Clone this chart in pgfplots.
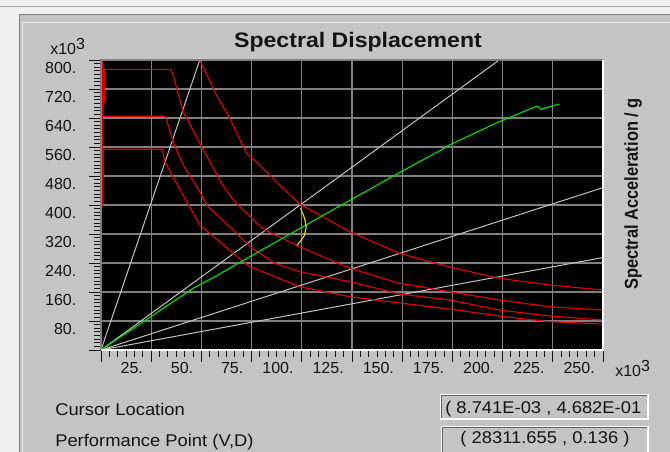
\documentclass[border=0pt]{standalone}
\usepackage{fontspec}
\setmainfont{Liberation Sans}
\newfontfamily\uif{Liberation Sans}[FakeStretch=1.08]
\newfontfamily\titlef{Liberation Sans}[FakeStretch=1.1]
\newfontfamily\rlabf{Liberation Sans}[FakeStretch=0.88]
\usepackage{pgfplots}
\pgfplotsset{compat=1.18}
\definecolor{panel}{RGB}{196,196,196}
\definecolor{winbg}{RGB}{240,240,240}
\definecolor{gridc}{RGB}{128,128,128}
\definecolor{redc}{RGB}{230,0,0}
\definecolor{greenc}{RGB}{0,225,0}
\definecolor{grayl}{RGB}{195,195,195}
\definecolor{yellowc}{RGB}{240,225,0}
\definecolor{txt}{RGB}{20,20,20}
\begin{document}
\begin{tikzpicture}
\begin{scope}[x=0.75pt,y=-0.75pt]
\path[use as bounding box] (0,0) rectangle (670,452);
\fill[winbg] (0,0) rectangle (670,452);
\draw[gray!70, line width=0.75pt] (0,6.5) -- (670,6.5);
\fill[panel] (19,14) rectangle (670,452);
\draw[gray, line width=0.75pt] (19.5,452) -- (19.5,14.5) -- (670,14.5);
\draw[white!85!gray, line width=0.75pt] (22.5,452) -- (22.5,22.5) -- (670,22.5);
% title
\node[anchor=base, inner sep=0pt, text=txt, font=\titlef\fontsize{15.75}{18}\selectfont\bfseries] at (358,48) {Spectral Displacement};
% right label
\node[rotate=90, inner sep=0pt, text=txt, font=\rlabf\fontsize{14}{16}\selectfont\bfseries] at (633,194) {Spectral Acceleration / g};
% multipliers
\node[anchor=base west, inner sep=0pt, text=txt, font=\fontsize{12}{14}\selectfont] at (50,55) {x10\raisebox{4pt}{3}};
\node[anchor=base west, inner sep=0pt, text=txt, font=\fontsize{12}{14}\selectfont] at (615,376.7) {x10\raisebox{4pt}{3}};
% bottom labels
\node[anchor=base west, inner sep=0pt, text=txt, font=\uif\fontsize{12.75}{15}\selectfont] at (55,415) {Cursor Location};
\node[anchor=base west, inner sep=0pt, text=txt, font=\uif\fontsize{12.75}{15}\selectfont] at (55,446) {Performance Point (V,D)};
% boxes
\draw[white, line width=1.5pt] (440.5,394.5) rectangle (648,419);
\draw[gray!75!black, line width=0.75pt] (441.5,418) -- (441.5,395.5) -- (647,395.5);
\draw[white, line width=1.5pt] (441.5,426.5) rectangle (648,454);
\draw[gray!75!black, line width=0.75pt] (442.5,453) -- (442.5,427.5) -- (647,427.5);
\begin{scope}
\clip (442,396) rectangle (646,418);
\node[anchor=base west, inner sep=0pt, text=txt, font=\uif\fontsize{12.75}{15}\selectfont] at (445,413.3) {( 8.741E-03 , 4.682E-01 )};
\end{scope}
\node[anchor=base, inner sep=0pt, text=txt, font=\uif\fontsize{12.75}{15}\selectfont] at (545,443.3) {( 28311.655 , 0.136 )};
\end{scope}

\begin{axis}[
  at={(75.75pt,-262.5pt)}, anchor=south west,
  scale only axis, width=376.5pt, height=217.5pt,
  xmin=0, xmax=250, ymin=0, ymax=800,
  axis background/.style={fill=black},
  axis line style={draw=none},
  tick pos=left,
  xtick={0,25,50,75,100,125,150,175,200,225,250},
  xticklabels={,25.,50.,75.,100.,125.,150.,175.,200.,225.,250.},
  ytick={0,80,160,240,320,400,480,560,640,720,800},
  yticklabels={,80.,160.,240.,320.,400.,480.,560.,640.,720.,800.},
  minor x tick num=5, minor y tick num=7,
  tick align=outside, major tick length=9pt, minor tick length=5pt,
  tick style={color=txt, line width=0.75pt},
  xmajorgrids=true, ymajorgrids=true, xminorgrids=false, yminorgrids=false,
  major grid style={gridc, line width=0.9pt},
  ticklabel style={font=\fontsize{12}{14}\selectfont, text=txt, inner sep=0pt},
  xticklabel style={anchor=north east, xshift=-6pt},
  yticklabel style={anchor=north east, yshift=-1.2pt, xshift=-9.3pt},
  clip mode=individual,
]
% radial period lines
\addplot[grayl, line width=0.75pt] coordinates {(0,0) (49.2,800)};
\addplot[grayl, line width=0.75pt] coordinates {(0,0) (198.3,800)};
\addplot[grayl, line width=0.75pt] coordinates {(0,0) (250,448)};
\addplot[grayl, line width=0.75pt] coordinates {(0,0) (250,255)};
% demand spectra
\addplot[redc, line width=0.85pt] coordinates {(0.9,800) (0.9,398)};
\addplot[redc, line width=1.8pt] coordinates {(0.9,553) (0.9,478)};
\addplot[redc, line width=1.8pt] coordinates {(1.4,774) (1.4,681)};
\addplot[redc, line width=0.85pt] coordinates {
(1.4,774) (34.6,774) (35.9,758.6) (40.9,657.4) (49.2,570.2) (60.0,459.9)
(65.8,413.8) (74.1,367.7) (81.5,331.0) (98.9,285.0) (123.8,225.4)
(148.6,184.0) (173.5,160.8) (198.3,137.9) (223.2,119.4) (250,110)};
\addplot[redc, line width=0.85pt] coordinates {
(0.9,645) (31.8,645) (32.7,634.5) (35.9,574.6) (40.9,510.3) (46.7,459.9)
(53.3,395.3) (65.8,331.0) (74.1,285.0) (86.5,239.2) (98.9,216.0)
(123.8,188.4) (148.6,154.5) (173.5,137.9) (198.3,110.3) (223.2,93.8) (250,82.8)};
\addplot[redc, line width=0.85pt] coordinates {
(0.9,553.7) (30.5,553.7) (31.8,519.4) (37.6,459.9) (49.2,344.8) (65.8,266.8)
(74.1,229.8) (98.9,174.6) (123.8,147.0) (148.6,129.7) (173.5,113.1)
(198.3,93.8) (223.2,78.1) (250,71.7)};
\addplot[redc, line width=0.85pt] coordinates {
(49.2,800) (57.5,703.4) (64.1,639.2) (72.4,542.6) (77.4,519.4) (88.1,459.9)
(98.9,402.8) (123.8,326.3) (148.6,266.8) (173.5,229.0) (198.3,197.8)
(223.2,179.3) (250,165.5)};
% capacity curve
\addplot[greenc, line width=0.85pt] coordinates {
(0,0) (45.9,170.2) (56.7,202.2) (74.1,257.4) (113.8,381.5) (148.6,489.2)
(169.3,551.7) (173.5,565.5) (198.3,629.8) (217.3,673.1) (219,664)
(222.3,669.5) (228.2,678.6)};
% performance point trace
\addplot[yellowc, line width=0.85pt] coordinates {
(99.4,390.9) (101.4,363.3) (102.2,340.1) (101.4,317.2) (99.8,303.4) (97.6,289)};
% sunken frame
\draw[gridc, line width=1pt] (rel axis cs:0,0) -- (rel axis cs:0,1) -- (rel axis cs:1,1);
\draw[white, line width=1.5pt] (rel axis cs:0,0) -- (rel axis cs:1,0) -- (rel axis cs:1,1);
\end{axis}
\end{tikzpicture}
\end{document}
